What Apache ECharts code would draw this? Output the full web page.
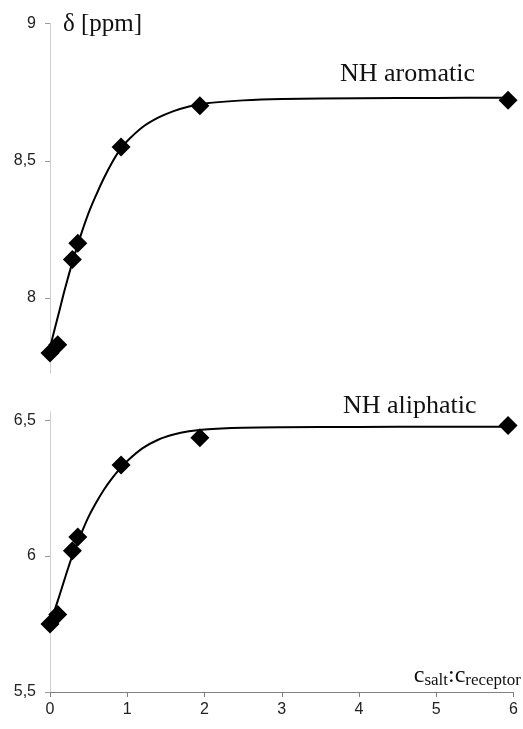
<!DOCTYPE html>
<html>
<head>
<meta charset="utf-8">
<script src="https://cdn.jsdelivr.net/npm/echarts@6/dist/echarts.min.js"></script>
<style>html,body{margin:0;padding:0;background:#fff}#c{width:523px;height:729px}</style>
</head>
<body>
<div id="c"></div>
<script>
// measured points: c_salt : c_receptor
var ratio = [0, 0.1, 0.29, 0.36, 0.92, 1.94, 5.93];
var aromaticShift = [7.80, 7.83, 8.14, 8.20, 8.55, 8.70, 8.72];
var aliphaticShift = [5.75, 5.785, 6.02, 6.07, 6.335, 6.435, 6.48];

// fitted curves
var curveX = [0, 0.1, 0.2, 0.3, 0.4, 0.5, 0.6, 0.7, 0.8, 0.9, 1.0, 1.2, 1.4, 1.6, 1.8, 2.0, 2.5, 3, 4, 5, 6];
var aromaticCurve = [7.82, 7.93, 8.04, 8.14, 8.23, 8.31, 8.377, 8.438, 8.492, 8.538, 8.572, 8.623, 8.657, 8.681, 8.698, 8.709, 8.72, 8.725, 8.728, 8.729, 8.73];
var aliphaticCurve = [5.75, 5.835, 5.925, 6.01, 6.08, 6.145, 6.198, 6.245, 6.285, 6.32, 6.35, 6.397, 6.428, 6.447, 6.459, 6.466, 6.472, 6.474, 6.475, 6.476, 6.476];

var topTicks = [8, 8.5, 9];
var bottomTicks = [5.5, 6, 6.5];
var xTicks = [0, 1, 2, 3, 4, 5, 6];

function pairs(xs, ys) { return xs.map(function (x, i) { return [x, ys[i]]; }); }
function comma(v) { return String(v).replace('.', ','); }

var sansFont = '"Liberation Sans", Arial, sans-serif';
var serifFont = '"Liberation Serif", "Times New Roman", serif';

var yAxisCommon = {
  type: 'value',
  splitLine: { show: false },
  axisLine: { show: true, lineStyle: { color: '#cfcfcf', width: 1 } },
  axisTick: { show: true, length: 5, lineStyle: { color: '#999' } },
  axisLabel: { fontFamily: sansFont, fontSize: 16, color: '#222', margin: 14, formatter: comma }
};

var chart = echarts.init(document.getElementById('c'), null, { renderer: 'canvas' });
chart.setOption({
  animation: false,
  backgroundColor: '#fff',
  grid: [
    { left: 50, right: 9.5, top: 23.5, height: 349.5 },
    { left: 50, right: 9.5, top: 412, height: 280 }
  ],
  xAxis: [
    { gridIndex: 0, type: 'value', min: 0, max: 6, show: false },
    {
      gridIndex: 1, type: 'value', min: 0, max: 6, interval: 1,
      splitLine: { show: false },
      axisLine: { show: true, lineStyle: { color: '#808080', width: 1.2 } },
      axisTick: { show: true, length: 5, lineStyle: { color: '#808080' } },
      axisLabel: { fontFamily: sansFont, fontSize: 16, color: '#222', margin: 10,
        customValues: xTicks }
    }
  ],
  yAxis: [
    Object.assign({}, yAxisCommon, {
      gridIndex: 0, min: 7.727, max: 9,
      axisTick: Object.assign({}, yAxisCommon.axisTick, { customValues: topTicks }),
      axisLabel: Object.assign({}, yAxisCommon.axisLabel, { customValues: topTicks })
    }),
    Object.assign({}, yAxisCommon, {
      gridIndex: 1, min: 5.5, max: 6.53,
      axisTick: Object.assign({}, yAxisCommon.axisTick, { customValues: bottomTicks }),
      axisLabel: Object.assign({}, yAxisCommon.axisLabel, { customValues: bottomTicks })
    })
  ],
  series: [
    { type: 'line', xAxisIndex: 0, yAxisIndex: 0, data: pairs(curveX, aromaticCurve),
      smooth: 0.35, showSymbol: false, lineStyle: { color: '#000', width: 2 }, z: 2 },
    { type: 'scatter', xAxisIndex: 0, yAxisIndex: 0, data: pairs(ratio, aromaticShift),
      symbol: 'diamond', symbolSize: 19, itemStyle: { color: '#000', opacity: 1 }, z: 3 },
    { type: 'line', xAxisIndex: 1, yAxisIndex: 1, data: pairs(curveX, aliphaticCurve),
      smooth: 0.35, showSymbol: false, lineStyle: { color: '#000', width: 2 }, z: 2 },
    { type: 'scatter', xAxisIndex: 1, yAxisIndex: 1, data: pairs(ratio, aliphaticShift),
      symbol: 'diamond', symbolSize: 19, itemStyle: { color: '#000', opacity: 1 }, z: 3 }
  ],
  graphic: [
    { type: 'text', x: 63, y: 24, style: { text: 'δ [ppm]', font: '25px ' + serifFont, fill: '#111', verticalAlign: 'middle' } },
    { type: 'text', x: 340, y: 74, style: { text: 'NH aromatic', font: '26px ' + serifFont, fill: '#111', verticalAlign: 'middle' } },
    { type: 'text', x: 343, y: 406, style: { text: 'NH aliphatic', font: '26px ' + serifFont, fill: '#111', verticalAlign: 'middle' } },
    { type: 'text', x: 521, y: 676, style: {
        text: '{m|c}{s|salt}{m|:c}{s|receptor}',
        align: 'right', verticalAlign: 'middle',
        rich: {
          m: { fontFamily: serifFont, fontSize: 24, fill: '#111', color: '#111' },
          s: { fontFamily: serifFont, fontSize: 17, fill: '#111', color: '#111', padding: [10, 0, 0, 0] }
        }
    } }
  ]
});
</script>
</body>
</html>
